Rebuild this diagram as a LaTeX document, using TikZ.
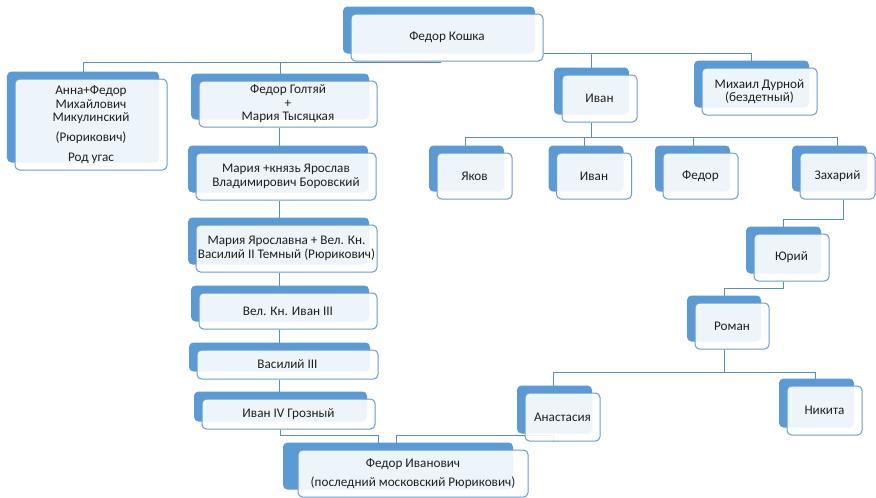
\documentclass[tikz,border=0pt]{standalone}
\usepackage{fontspec}
\setmainfont{Carlito}
\usetikzlibrary{shadows,backgrounds}
\definecolor{backblue}{HTML}{5B9BD5}
\definecolor{frameblue}{HTML}{6A9AD0}
\definecolor{linkblue}{HTML}{5A8CC4}
\definecolor{textgray}{HTML}{1F1F1F}
\tikzset{
  person/.style 2 args={draw=frameblue, line width=0.2mm, rounded corners=0.9mm,
    fill=white, fill opacity=0.9, text opacity=1, text=textgray, align=center,
    inner sep=0pt, font=\fontsize{7.5}{7.7}\selectfont,
    minimum width=#1*0.2mm, minimum height=#2*0.2mm},
  backing/.style={copy shadow={fill=backblue, draw=none, fill opacity=1,
      shadow xshift=#1, shadow yshift=1.5mm}},
  backing/.default=-1.6mm,
  link/.style={draw=linkblue, line width=0.2mm}
}
\begin{document}
\begin{tikzpicture}[x=0.2mm,y=-0.2mm]
                    \useasboundingbox (0,0) rectangle (876,497);
                    
                    % Drawing box Fedor Koshka
                    \node [person={192}{47}, backing] (koshka) at (447,37.5) {Федор Кошка};%
                    
                    % Drawing boxes of the left branch
                    \node [person={152}{91}, backing] (anna) at (91,124.5) {Анна+Федор\\Михайлович\\Микулинский\\[3.5pt](Рюрикович)\\[3.5pt]Род угас};%
                    \node [person={178}{46}, backing] (goltyay) at (288,104) {Федор Голтяй\\+\\Мария Тысяцкая};%
                    \node [person={180}{47}, backing] (mariya) at (286,176.5) {Мария +князь Ярослав\\Владимирович Боровский};%
                    \node [person={181}{47}, backing] (yaroslavna) at (286.5,248.5) {Мария Ярославна + Вел. Кн.\\Василий II Темный (Рюрикович)};%
                    \node [person={178}{36}, backing] (ivanIII) at (288,311) {Вел. Кн. Иван III};%
                    \node [person={181}{29}, backing] (vasiliyIII) at (287.5,364.5) {Василий III};%
                    \node [person={173}{30}, backing] (ivanIV) at (288.5,414) {Иван IV Грозный};%
                    \node [person={230}{47}, backing=-3mm] (fedorIv) at (413,473.5) {Федор Иванович\\[3pt](последний московский Рюрикович)};%
                    
                    % Drawing boxes of the right branch
                    \node [person={75}{47}, backing] (ivan) at (599.5,98.5) {Иван};%
                    \node [person={115}{47}, backing] (mikhail) at (759.5,91.5) {Михаил Дурной\\(бездетный)};%
                    \node [person={75}{46}, backing] (yakov) at (474.5,176) {Яков};%
                    \node [person={75}{46}, backing] (ivanB) at (594,176) {Иван};%
                    \node [person={75}{46}, backing] (fedor) at (700.5,176) {Федор};%
                    \node [person={75}{46}, backing] (zakhariy) at (837.5,176) {Захарий};%
                    \node [person={75}{47}, backing] (yuriy) at (791.5,257.5) {Юрий};%
                    \node [person={74}{46}, backing] (roman) at (732,326) {Роман};%
                    \node [person={75}{48}, backing] (anastasiya) at (562.5,417) {Анастасия};%
                    \node [person={75}{49}, backing] (nikita) at (824.5,410.5) {Никита};%
                    
                    \begin{scope}[on background layer]
                    % Drawing links from Fedor Koshka
                    \draw [link] ([xshift=-1.4mm]koshka.south) -- ++(0,1) -| ([xshift=-1.6mm]anna.north);%
                    \draw [link] ([xshift=-1.4mm]koshka.south) -- ++(0,1) -| ([xshift=-1.6mm]goltyay.north);%
                    \draw [link] ([yshift=1.6mm]koshka.south east) -| ([xshift=-1.7mm]ivan.north);%
                    \draw [link] ([yshift=1.6mm]koshka.south east) -| ([xshift=-1.7mm]mikhail.north);%
                    
                    % Drawing links down the left branch
                    \draw [link] ([xshift=-1.7mm]goltyay.south) -- ([xshift=-1.7mm]goltyay.south |- mariya.north);%
                    \draw [link] ([xshift=-1.3mm]mariya.south) -- ([xshift=-1.3mm]mariya.south |- yaroslavna.north);%
                    \draw [link] ([xshift=-1.5mm]yaroslavna.south) -- ([xshift=-1.5mm]yaroslavna.south |- ivanIII.north);%
                    \draw [link] ([xshift=-1.8mm]ivanIII.south) -- ([xshift=-1.8mm]ivanIII.south |- vasiliyIII.north);%
                    \draw [link] ([xshift=-1.7mm]vasiliyIII.south) -- ([xshift=-1.7mm]vasiliyIII.south |- ivanIV.north);%
                    \draw [link] ([xshift=-1.7mm]ivanIV.south) -- ++(0,6) -| ([xshift=-7mm]fedorIv.north);%
                    \draw [link] ([xshift=-1.9mm]anastasiya.south) -- ++(0,-6) -| ([xshift=-3.4mm]fedorIv.north);%
                    
                    % Drawing links down the right branch
                    \draw [link] ([xshift=-1.7mm]ivan.south) -- ++(0,15) -| ([xshift=-1.9mm]yakov.north);%
                    \draw [link] ([xshift=-1.7mm]ivan.south) -- ++(0,15) -| ([xshift=-2mm]ivanB.north);%
                    \draw [link] ([xshift=-1.7mm]ivan.south) -- ++(0,15) -| ([xshift=-1.5mm]fedor.north);%
                    \draw [link] ([xshift=-1.7mm]ivan.south) -- ++(0,15) -| (zakhariy.north);%
                    \draw [link] ([xshift=1.1mm]zakhariy.south) -- ++(0,20) -| ([xshift=-1.7mm]yuriy.north);%
                    \draw [link] ([xshift=-1.7mm]yuriy.south) -- ++(0,7) -| ([xshift=-1.6mm]roman.north);%
                    \draw [link] ([xshift=-1.6mm]roman.south) -- ++(0,23) -| ([xshift=-1.9mm]anastasiya.north);%
                    \draw [link] ([xshift=-1.6mm]roman.south) -- ++(0,23) -| ([xshift=-1.9mm]nikita.north);%
                    \end{scope}
\end{tikzpicture}
\end{document}
